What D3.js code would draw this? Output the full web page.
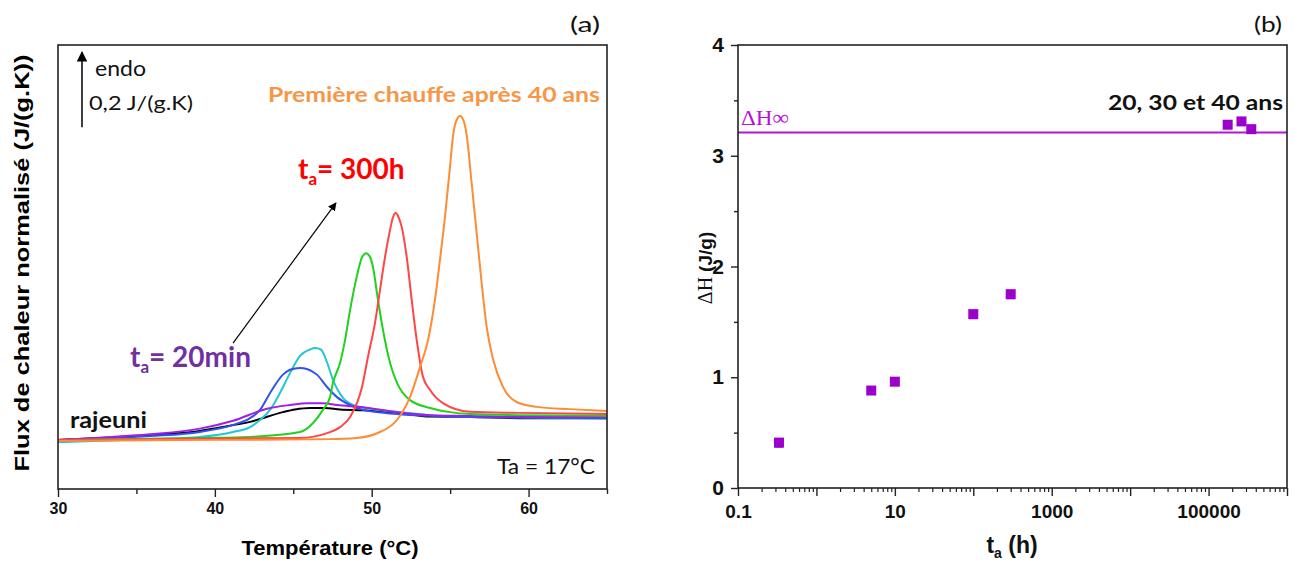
<!DOCTYPE html>
<html>
<head>
<meta charset="utf-8">
<script src="https://cdn.jsdelivr.net/npm/d3@7"></script>
<style>
  html, body { margin: 0; padding: 0; background: #fff; }
  svg { display: block; }
</style>
</head>
<body>
<svg id="chart" width="1293" height="562"></svg>
<script>
// ---------------- DATA ----------------
// Panel (a): DSC curves, [temperature °C, normalised heat flux J/(g.K) (offset)]
const tempTicks = [30, 40, 50, 60];
const tempMinorTicks = [35, 45, 55, 65];

const curveRajeuni = [[30,0.131],[32.68,0.136],[35.87,0.144],[39.05,0.155],[40.14,0.163],[42.24,0.179],[44.34,0.205],[45.11,0.212],[46.07,0.216],[47.02,0.216],[47.98,0.212],[49.44,0.210],[51.61,0.203],[53.72,0.193],[56.26,0.192],[59.45,0.189],[65,0.189]];
const curve20min = [[30,0.131],[32.68,0.137],[35.87,0.146],[39.05,0.161],[41.16,0.182],[43.32,0.214],[44.79,0.224],[45.87,0.229],[46.89,0.229],[47.79,0.224],[49.44,0.218],[51.61,0.205],[53.72,0.197],[56.26,0.195],[59.45,0.192],[65,0.192]];
const curveBlue = [[30,0.131],[35.87,0.141],[39.05,0.152],[41.16,0.171],[42.24,0.189],[42.88,0.211],[43.52,0.256],[44.34,0.305],[44.79,0.318],[45.43,0.323],[45.87,0.320],[46.51,0.305],[47.15,0.272],[47.79,0.245],[48.62,0.224],[49.44,0.211],[51.6,0.200],[53.7,0.195],[56.3,0.192],[65,0.189]];
const curveCyan = [[30,0.125],[35.87,0.133],[39.05,0.139],[41.16,0.152],[42.24,0.165],[42.88,0.184],[43.52,0.211],[44.15,0.256],[44.79,0.309],[45.43,0.355],[46.07,0.372],[46.38,0.376],[46.76,0.372],[47.15,0.338],[47.53,0.291],[48.17,0.243],[48.81,0.224],[49.89,0.214],[51.8,0.205],[53.7,0.197],[56.3,0.192],[65,0.189]];
const curveGreen = [[30,0.131],[39.05,0.136],[42.24,0.139],[45.43,0.152],[46.26,0.176],[46.89,0.211],[47.34,0.245],[47.53,0.283],[47.98,0.336],[48.30,0.397],[48.62,0.477],[49.04,0.565],[49.38,0.618],[49.64,0.629],[49.9,0.618],[50.08,0.592],[50.40,0.504],[50.72,0.424],[51.17,0.336],[51.61,0.283],[52.44,0.237],[53.72,0.216],[54.99,0.205],[56.3,0.200],[59.5,0.197],[65,0.195]];
const curve300h = [[30,0.131],[45.43,0.136],[47.15,0.149],[47.98,0.165],[48.62,0.192],[49.38,0.272],[49.76,0.352],[50.21,0.443],[50.53,0.531],[50.85,0.619],[51.17,0.691],[51.35,0.724],[51.53,0.736],[51.72,0.724],[51.91,0.699],[52.23,0.619],[52.55,0.504],[52.87,0.397],[53.27,0.299],[53.72,0.264],[54.54,0.229],[56.26,0.206],[59.45,0.203],[65,0.200]];
const curve40ans = [[30,0.128],[40,0.131],[47.3,0.133],[49.04,0.136],[50.53,0.152],[51.61,0.184],[52.44,0.245],[53.08,0.325],[53.59,0.397],[54.03,0.504],[54.35,0.611],[54.67,0.725],[54.99,0.859],[55.18,0.940],[55.4,0.983],[55.63,0.995],[55.85,0.983],[56.05,0.945],[56.37,0.816],[56.69,0.683],[57.01,0.549],[57.33,0.432],[57.75,0.344],[58.37,0.272],[59.24,0.232],[60.52,0.219],[62.64,0.213],[65,0.208]];

// Panel (b): enthalpy recovered vs ageing time
const agingTimes = [0.333, 5, 10, 100, 300, 175200, 262800, 350400];   // h
const deltaH     = [0.41, 0.88, 0.96, 1.57, 1.75, 3.28, 3.31, 3.24];     // J/g
const deltaHerr  = [0.04, 0.03, 0.03, 0.04, 0.04, 0.0, 0.0, 0.0];
const deltaHinf  = 3.21;
const timeTickLabels = [0.1, 10, 1000, 100000];
const dhTicks = [0, 1, 2, 3, 4];
const dhMinorTicks = [0.5, 1.5, 2.5, 3.5];

// ---------------- STYLE ----------------
const curves = [
  {d: curveRajeuni, c: "#000000"},
  {d: curveCyan,    c: "#22c6d6"},
  {d: curveBlue,    c: "#2f52f0"},
  {d: curve20min,   c: "#a01ee6"},
  {d: curveGreen,   c: "#1ed21e"},
  {d: curve300h,    c: "#ff4646"},
  {d: curve40ans,   c: "#ff8c32"}
];
const AX = "'Liberation Sans', Arial, sans-serif";
const CAL = "Lato, 'Open Sans', sans-serif";

const svg = d3.select("#chart");

// ---------------- PANEL A ----------------
const A = {x0: 58, x1: 607, y0: 45, y1: 489};
const xA = d3.scaleLinear().domain([30, 65]).range([A.x0, A.x1]);
const yA = d3.scaleLinear().domain([0, (A.y1 - A.y0) / 375]).range([A.y1, A.y0]);

const gA = svg.append("g");
const line = d3.line().x(d => xA(d[0])).y(d => yA(d[1])).curve(d3.curveMonotoneX);
curves.forEach(s => {
  gA.append("path").attr("d", line(s.d)).attr("fill", "none")
    .attr("stroke", s.c).attr("stroke-width", 2);
});

// frame
gA.append("rect").attr("x", A.x0).attr("y", A.y0).attr("width", A.x1 - A.x0).attr("height", A.y1 - A.y0)
  .attr("fill", "none").attr("stroke", "#222").attr("stroke-width", 1.6);

// x axis
const axA = d3.axisBottom(xA).tickValues(tempTicks).tickSize(8).tickFormat(d3.format("d"));
const gAx = gA.append("g").attr("transform", `translate(0,${A.y1})`).call(axA);
gAx.select(".domain").remove();
gAx.selectAll("line").attr("stroke", "#222").attr("stroke-width", 1.4);
gAx.selectAll("text").attr("font-family", AX).attr("font-weight", "bold").attr("font-size", 16).attr("fill", "#111").attr("dy", "0.9em");
const axAm = d3.axisBottom(xA).tickValues(tempMinorTicks).tickSize(5).tickFormat("");
const gAxm = gA.append("g").attr("transform", `translate(0,${A.y1})`).call(axAm);
gAxm.select(".domain").remove();
gAxm.selectAll("line").attr("stroke", "#222").attr("stroke-width", 1.4);

// axis titles
gA.append("text").attr("x", 330).attr("y", 555).attr("text-anchor", "middle")
  .attr("font-family", AX).attr("font-weight", "bold").attr("font-size", 20)
  .attr("textLength", 177).attr("lengthAdjust", "spacingAndGlyphs").text("Température (°C)");
gA.append("text").attr("transform", "translate(29,263) rotate(-90)").attr("text-anchor", "middle")
  .attr("font-family", AX).attr("font-weight", "bold").attr("font-size", 20)
  .attr("textLength", 417).attr("lengthAdjust", "spacingAndGlyphs").text("Flux de chaleur normalisé (J/(g.K))");

// endo scale arrow (0.2 J/(g.K))
svg.append("defs").html(`
  <marker id="ah" viewBox="0 0 10 10" refX="9" refY="5" markerWidth="7" markerHeight="7" orient="auto-start-reverse">
    <path d="M0,0 L10,5 L0,10 z" fill="#000"/>
  </marker>`);
const endoT = 31.53, endoBase = 0.965;
gA.append("line").attr("x1", xA(endoT)).attr("x2", xA(endoT))
  .attr("y1", yA(endoBase)).attr("y2", yA(endoBase + 0.2))
  .attr("stroke", "#000").attr("stroke-width", 1.5).attr("marker-end", "url(#ah)");
gA.append("text").attr("x", 95).attr("y", 76).attr("font-family", CAL).attr("font-size", 21).attr("fill", "#111")
  .attr("textLength", 51).attr("lengthAdjust", "spacingAndGlyphs").text("endo");
gA.append("text").attr("x", 89).attr("y", 110).attr("font-family", CAL).attr("font-size", 20).attr("fill", "#111")
  .attr("textLength", 104).attr("lengthAdjust", "spacingAndGlyphs").text("0,2 J/(g.K)");

// annotations
gA.append("text").attr("x", 268).attr("y", 102).attr("font-family", CAL).attr("font-weight", "bold").attr("font-size", 20)
  .attr("fill", "#f79646").attr("textLength", 332).attr("lengthAdjust", "spacingAndGlyphs").text("Première chauffe après 40 ans");

function taLabel(x, y, rest, color) {
  const t = gA.append("text").attr("x", x).attr("y", y).attr("font-family", CAL).attr("font-weight", "bold")
    .attr("font-size", 28).attr("fill", color);
  t.append("tspan").text("t");
  t.append("tspan").attr("font-size", 17).attr("dy", 6).text("a");
  t.append("tspan").attr("dy", -6).text(rest);
  return t;
}
taLabel(298, 179, "= 300h", "#ff0000");
taLabel(130, 367, "= 20min", "#7030a0");

// ageing arrow
gA.append("line").attr("x1", xA(41.16)).attr("y1", yA(0.389)).attr("x2", xA(47.72)).attr("y2", yA(0.763))
  .attr("stroke", "#000").attr("stroke-width", 1.2).attr("marker-end", "url(#ah)");

gA.append("text").attr("x", 70).attr("y", 428).attr("font-family", CAL).attr("font-weight", "bold").attr("font-size", 22)
  .attr("fill", "#111").attr("textLength", 77).attr("lengthAdjust", "spacingAndGlyphs").text("rajeuni");
gA.append("text").attr("x", 595).attr("y", 474).attr("text-anchor", "end").attr("font-family", CAL).attr("font-size", 21)
  .attr("fill", "#111").attr("textLength", 98).attr("lengthAdjust", "spacingAndGlyphs").text("Ta = 17°C");
gA.append("text").attr("x", 600).attr("y", 32).attr("text-anchor", "end").attr("font-family", CAL).attr("font-size", 21)
  .attr("fill", "#111").attr("textLength", 30).attr("lengthAdjust", "spacingAndGlyphs").text("(a)");

// ---------------- PANEL B ----------------
const B = {x0: 738, x1: 1287, y0: 45, y1: 488};
const xB = d3.scaleLog().domain([0.1, 1e6]).range([B.x0, B.x1]);
const yB = d3.scaleLinear().domain([0, 4]).range([B.y1, B.y0]);
const gB = svg.append("g");

// ΔH∞ line
gB.append("line").attr("x1", B.x0).attr("x2", B.x1).attr("y1", yB(deltaHinf)).attr("y2", yB(deltaHinf))
  .attr("stroke", "#b414dc").attr("stroke-width", 1.8);
gB.append("text").attr("x", 741).attr("y", 125).attr("font-family", "'Liberation Serif', 'DejaVu Serif', serif")
  .attr("font-size", 22).attr("fill", "#b414dc").attr("textLength", 48).attr("lengthAdjust", "spacingAndGlyphs").text("ΔH∞");

// error bars + points
const pts = agingTimes.map((t, i) => ({t, v: deltaH[i], e: deltaHerr[i]}));
gB.selectAll(".err").data(pts.filter(p => p.e > 0)).join("line")
  .attr("x1", p => xB(p.t)).attr("x2", p => xB(p.t))
  .attr("y1", p => yB(p.v - p.e)).attr("y2", p => yB(p.v + p.e))
  .attr("stroke", "#a000cc").attr("stroke-width", 1.2);
gB.selectAll(".errcap").data(pts.filter(p => p.e > 0)).join("line")
  .attr("x1", p => xB(p.t) - 4).attr("x2", p => xB(p.t) + 4)
  .attr("y1", p => yB(p.v - p.e)).attr("y2", p => yB(p.v - p.e))
  .attr("stroke", "#a000cc").attr("stroke-width", 1.2);
gB.selectAll(".pt").data(pts).join("rect")
  .attr("x", p => xB(p.t) - 5).attr("y", p => yB(p.v) - 5).attr("width", 10).attr("height", 10)
  .attr("fill", "#9c00cc");

// frame
gB.append("rect").attr("x", B.x0).attr("y", B.y0).attr("width", B.x1 - B.x0).attr("height", B.y1 - B.y0)
  .attr("fill", "none").attr("stroke", "#222").attr("stroke-width", 1.6);

// y axis
const ayB = d3.axisLeft(yB).tickValues(dhTicks).tickSize(7).tickFormat(d3.format("d"));
const gBy = gB.append("g").attr("transform", `translate(${B.x0},0)`).call(ayB);
gBy.select(".domain").remove();
gBy.selectAll("line").attr("stroke", "#222").attr("stroke-width", 1.4);
gBy.selectAll("text").attr("font-family", AX).attr("font-weight", "bold").attr("font-size", 21).attr("fill", "#111").attr("x", -14);
const ayBm = d3.axisLeft(yB).tickValues(dhMinorTicks).tickSize(4).tickFormat("");
const gBym = gB.append("g").attr("transform", `translate(${B.x0},0)`).call(ayBm);
gBym.select(".domain").remove();
gBym.selectAll("line").attr("stroke", "#222").attr("stroke-width", 1.4);

// x axis (log)
const decades = d3.range(-1, 7).map(e => Math.pow(10, e));
const minors = [];
decades.slice(0, -1).forEach(d => { for (let k = 2; k <= 9; k++) minors.push(d * k); });
const axBM = d3.axisBottom(xB).tickValues(decades).tickSize(8).tickFormat(d => timeTickLabels.includes(d) ? (d < 1 ? "0.1" : d3.format("d")(d)) : "");
const gBx = gB.append("g").attr("transform", `translate(0,${B.y1})`).call(axBM);
gBx.select(".domain").remove();
gBx.selectAll("line").attr("stroke", "#222").attr("stroke-width", 1.4);
gBx.selectAll("text").attr("font-family", AX).attr("font-weight", "bold").attr("font-size", 19).attr("fill", "#111").attr("dy", "1.0em");
const axBm = d3.axisBottom(xB).tickValues(minors).tickSize(4).tickFormat("");
const gBxm = gB.append("g").attr("transform", `translate(0,${B.y1})`).call(axBm);
gBxm.select(".domain").remove();
gBxm.selectAll("line").attr("stroke", "#222").attr("stroke-width", 1.2);

// titles
const tx = gB.append("text").attr("x", 1012).attr("y", 553).attr("text-anchor", "middle")
  .attr("font-family", AX).attr("font-weight", "bold").attr("font-size", 23).attr("fill", "#111");
tx.append("tspan").text("t");
tx.append("tspan").attr("font-size", 14).attr("dy", 5).text("a");
tx.append("tspan").attr("dy", -5).text(" (h)");

const ty = gB.append("text").attr("transform", "translate(712,268) rotate(-90)").attr("text-anchor", "middle")
  .attr("font-size", 19).attr("fill", "#111");
ty.append("tspan").attr("font-family", "'Liberation Serif', serif").attr("font-size", 20).text("ΔH ");
ty.append("tspan").attr("font-family", AX).attr("font-weight", "bold").text("(J/g)");

gB.append("text").attr("x", 1283).attr("y", 110).attr("text-anchor", "end").attr("font-family", CAL).attr("font-weight", "bold")
  .attr("font-size", 20).attr("fill", "#111").attr("textLength", 175).attr("lengthAdjust", "spacingAndGlyphs").text("20, 30 et 40 ans");
gB.append("text").attr("x", 1282).attr("y", 32).attr("text-anchor", "end").attr("font-family", CAL).attr("font-size", 21)
  .attr("fill", "#111").attr("textLength", 28).attr("lengthAdjust", "spacingAndGlyphs").text("(b)");
</script>
</body>
</html>
